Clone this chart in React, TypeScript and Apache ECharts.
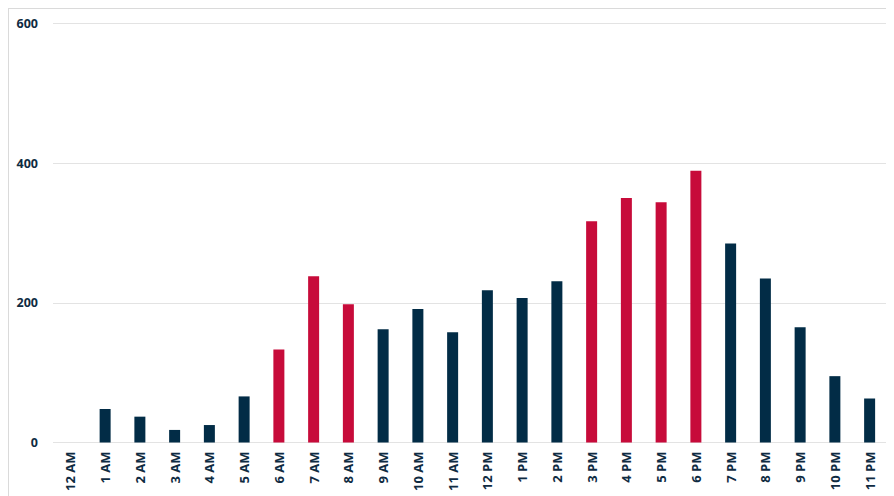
import React, { useEffect, useRef } from "react";
import * as echarts from "echarts";

const hours = [
  "12 AM", "1 AM", "2 AM", "3 AM", "4 AM", "5 AM", "6 AM", "7 AM", "8 AM", "9 AM", "10 AM", "11 AM",
  "12 PM", "1 PM", "2 PM", "3 PM", "4 PM", "5 PM", "6 PM", "7 PM", "8 PM", "9 PM", "10 PM", "11 PM",
];
const counts = [0, 48, 37, 18, 25, 66, 133, 238, 198, 162, 191, 158, 218, 207, 231, 317, 350, 344, 389, 285, 235, 165, 95, 63];
const peakHours = ["6 AM", "7 AM", "8 AM", "3 PM", "4 PM", "5 PM", "6 PM"];
const yTicks = [0, 200, 400, 600];

const NAVY = "#022c46";
const RED = "#c70b3a";
const LABEL = "#0f2b42";

export default function App() {
  const ref = useRef<HTMLDivElement>(null);

  useEffect(() => {
    if (!ref.current) return;
    const chart = echarts.init(ref.current, undefined, { renderer: "svg" });
    chart.setOption({
      animation: false,
      grid: { left: 44, right: 22, top: 14.5, bottom: 66.5 },
      xAxis: {
        type: "category",
        data: hours,
        axisLine: { show: false },
        axisTick: { show: false },
        axisLabel: {
          rotate: 90,
          interval: 0,
          margin: 9,
          color: LABEL,
          fontFamily: "Open Sans",
          fontWeight: "bold",
          fontSize: 13,
        },
      },
      yAxis: {
        type: "value",
        min: yTicks[0],
        max: yTicks[yTicks.length - 1],
        interval: yTicks[1] - yTicks[0],
        axisLine: { show: false },
        axisTick: { show: false },
        splitLine: { lineStyle: { color: "#e3e3e3", width: 1 } },
        axisLabel: {
          margin: 15,
          color: LABEL,
          fontFamily: "Open Sans",
          fontWeight: "bold",
          fontSize: 12.5,
        },
      },
      series: [
        {
          type: "bar",
          barWidth: 11,
          data: counts.map((v, i) => ({
            value: v,
            itemStyle: { color: peakHours.includes(hours[i]) ? RED : NAVY },
          })),
        },
      ],
    });
    return () => chart.dispose();
  }, []);

  return (
    <div style={{ border: "1px solid #dadada", width: 900, height: 500 }}>
      <div ref={ref} style={{ width: 900, height: 500 }} />
    </div>
  );
}
